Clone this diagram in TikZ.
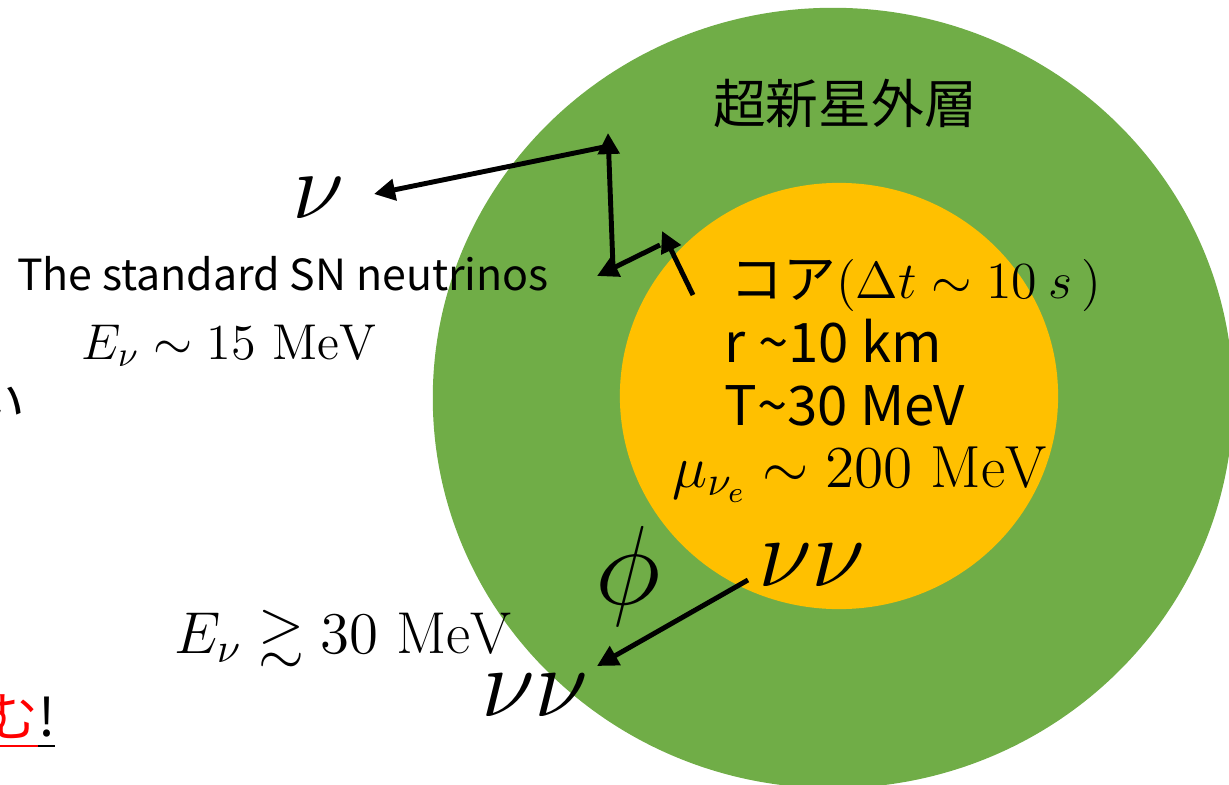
\RequirePackage{fix-cm}
\documentclass[tikz,border=0pt]{standalone}
\usepackage{amsmath}
\usepackage{amssymb}
\usepackage{fontspec}
\newfontfamily\jpfont{Noto Sans CJK JP}
\usetikzlibrary{arrows.meta}
\definecolor{layergreen}{HTML}{70AD47}
\definecolor{coreorange}{HTML}{FFC000}
\newcommand{\ulpart}[1]{\underline{\vphantom{む!}#1}}
\tikzset{
  ray/.style={line width=1.4pt, -{Triangle[length=6pt,width=6pt]}},
  jplabel/.style={font=\jpfont\fontsize{15pt}{18pt}\selectfont, inner sep=0pt},
  mathlabel/.style={inner sep=0pt}
}

\begin{document}
\begin{tikzpicture}[x=0.01cm, y=-0.01cm]

\clip (0,0) rectangle (1229,784);

% Outer layer and core
\fill[layergreen] (833,398) ellipse[x radius=4cm, y radius=3.9cm];
\fill[coreorange] (839,396) ellipse[x radius=2.19cm, y radius=2.13cm];

% Outer layer label
\node[jplabel] (outer) at (845,104) {超新星外層};

% Core labels
\node[jplabel, anchor=base west] (core) at (730,298)
  {コア\fontsize{14.8pt}{17pt}\selectfont$(\Delta t\sim 10\ s\,)$};
\node[jplabel, anchor=base west, font=\jpfont\fontsize{15.5pt}{18pt}\selectfont]
  (radius) at (724,362) {r \textasciitilde10 km};
\node[jplabel, anchor=base west, font=\jpfont\fontsize{15.5pt}{18pt}\selectfont]
  (temp) at (724,425) {T\textasciitilde30 MeV};
\node[mathlabel, anchor=base west, font=\fontsize{16.9pt}{19pt}\selectfont]
  (chem) at (672,487) {$\mu_{\nu_e}\sim 200\ \mathrm{MeV}$};

% Standard neutrinos
\node[jplabel, font=\jpfont\fontsize{12.2pt}{15pt}\selectfont] (std) at (283,274)
  {The standard SN neutrinos};
\node[mathlabel, font=\fontsize{14.3pt}{17pt}\selectfont] (stdE) at (229,346)
  {$E_\nu\sim 15\ \mathrm{MeV}$};
\node[mathlabel, font=\fontsize{27pt}{30pt}\selectfont] (nu) at (318,198) {$\nu$};
\coordinate (nutip) at (374,194);

% Scalar emission
\node[mathlabel, font=\fontsize{32pt}{36pt}\selectfont] (phi) at (628,576) {$\phi$};
\node[mathlabel, font=\fontsize{28pt}{32pt}\selectfont] (nunuin) at (812,565) {$\nu\nu$};
\node[mathlabel, font=\fontsize{28pt}{32pt}\selectfont] (nunuout) at (535,695) {$\nu\nu$};
\node[mathlabel, font=\fontsize{16.8pt}{19pt}\selectfont] (highE) at (343,639)
  {$E_\nu\gtrsim 30\ \mathrm{MeV}$};

% Cut-off text at the left edge
\node[jplabel, anchor=base east] (cutA) at (26,422) {い};
\node[jplabel, anchor=base west] (cutB) at (-15,736)
  {\textcolor{red}{\ulpart{む}}\ulpart{!}};

% Random walk out of the core
\coordinate (w0) at (693,295);
\coordinate (w1) at (662,231);
\coordinate (w2) at (660,245);
\coordinate (w3) at (597,276);
\coordinate (w4) at (613,267);
\coordinate (w5) at (608,133);
\coordinate (w6) at (604,147);
\draw[ray] (w0) -- (w1);
\draw[ray] (w2) -- (w3);
\draw[ray] (w4) -- (w5);
\draw[ray] (w6) -- (nutip);

% Pair leaving the core
\coordinate (p0) at (748,580);
\coordinate (p1) at (597,666);
\draw[ray] (p0) -- (p1);

\end{tikzpicture}
\end{document}
